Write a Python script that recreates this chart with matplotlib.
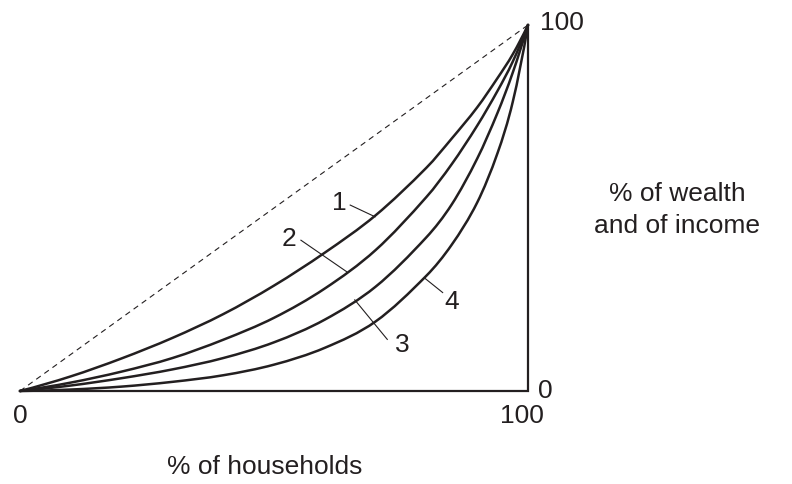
import matplotlib
matplotlib.use("Agg")
import matplotlib.pyplot as plt
from matplotlib.path import Path
from matplotlib.patches import PathPatch

plt.rcParams['font.family'] = ['Liberation Sans', 'DejaVu Sans']

# % of households (x) and cumulative share (y)
households = [0, 10, 20, 30, 40, 50, 60, 70, 80, 85, 90, 94, 97, 100]
curve_1 = [0, 4.0, 8.9, 14.5, 21.0, 28.8, 37.8, 48.0, 61.0, 69.0, 77.5, 85.5, 92.0, 100]
curve_2 = [0, 2.3, 5.3, 9.0, 14.0, 20.0, 28.0, 38.5, 53.0, 62.0, 72.5, 82.0, 90.0, 100]
curve_3 = [0, 1.5, 3.5, 5.9, 9.0, 13.3, 19.5, 28.5, 42.0, 51.0, 63.5, 76.0, 87.0, 100]
curve_4 = [0, 0.4, 1.2, 2.5, 4.3, 7.2, 11.8, 19.0, 31.5, 40.0, 51.5, 65.0, 79.0, 100]
curves = [curve_1, curve_2, curve_3, curve_4]
curve_names = ["1", "2", "3", "4"]

# label text position, pointer start, pointer end (data units)
label_pos = [(62.9, 51.4), (52.9, 41.5), (75.3, 12.6), (85.0, 24.4)]
pointer_a = [(65.0, 50.8), (55.3, 41.2), (65.9, 24.9), (79.7, 30.8)]
pointer_b = [(69.9, 47.6), (64.3, 32.6), (72.3, 14.1), (83.2, 26.9)]

INK = '#231f20'


def smooth_path(xs, ys):
    # cubic Hermite through the read points, drawn as Bezier segments
    n = len(xs)
    d = [(ys[i + 1] - ys[i]) / (xs[i + 1] - xs[i]) for i in range(n - 1)]
    m = [0.0] * n
    for i in range(1, n - 1):
        m[i] = (ys[i + 1] - ys[i - 1]) / (xs[i + 1] - xs[i - 1])
    m[0] = max(0.0, 2 * d[0] - m[1])
    m[-1] = 2 * d[-1] - m[-2]
    verts = [(xs[0], ys[0])]
    codes = [Path.MOVETO]
    for i in range(n - 1):
        h = xs[i + 1] - xs[i]
        verts += [(xs[i] + h / 3, ys[i] + m[i] * h / 3),
                  (xs[i + 1] - h / 3, ys[i + 1] - m[i + 1] * h / 3),
                  (xs[i + 1], ys[i + 1])]
        codes += [Path.CURVE4] * 3
    return Path(verts, codes)


fig = plt.figure(figsize=(7.92, 4.84), dpi=100)
ax = fig.add_axes([20 / 792, 93 / 484, 508 / 792, 366 / 484])
ax.set_xlim(0, 100)
ax.set_ylim(0, 100)
ax.axis('off')

# equality line
ax.plot([0, 100], [0, 100], color=INK, lw=0.8, ls=(0, (5, 4)), clip_on=False)
# bottom and right edges
ax.plot([0, 100, 100], [0, 0, 100], color=INK, lw=1.6, clip_on=False,
        solid_joinstyle='miter')

for ys in curves:
    ax.add_patch(PathPatch(smooth_path(households, ys), facecolor='none',
                           edgecolor=INK, lw=1.8, clip_on=False,
                           capstyle='round', joinstyle='round'))

for name, pos, a, b in zip(curve_names, label_pos, pointer_a, pointer_b):
    ax.plot([a[0], b[0]], [a[1], b[1]], color=INK, lw=0.8)
    ax.text(pos[0], pos[1], name, fontsize=19, ha='center', va='center', color=INK)

fs = 19
ax.text(0, -3.5, "0", fontsize=fs, ha='center', va='top', color=INK)
ax.text(98.8, -3.5, "100", fontsize=fs, ha='center', va='top', color=INK)
ax.text(102, 0, "0", fontsize=fs, ha='left', va='center', color=INK)
ax.text(102.3, 100.5, "100", fontsize=fs, ha='left', va='center', color=INK)

fig.text(265 / 792, 1 - 467 / 484, "% of households", fontsize=fs,
         ha='center', va='center', color=INK)
fig.text(677 / 792, 1 - 210 / 484, "% of wealth\nand of income", fontsize=fs,
         ha='center', va='center', color=INK, linespacing=1.38)

fig.savefig("out.png", dpi=100)
